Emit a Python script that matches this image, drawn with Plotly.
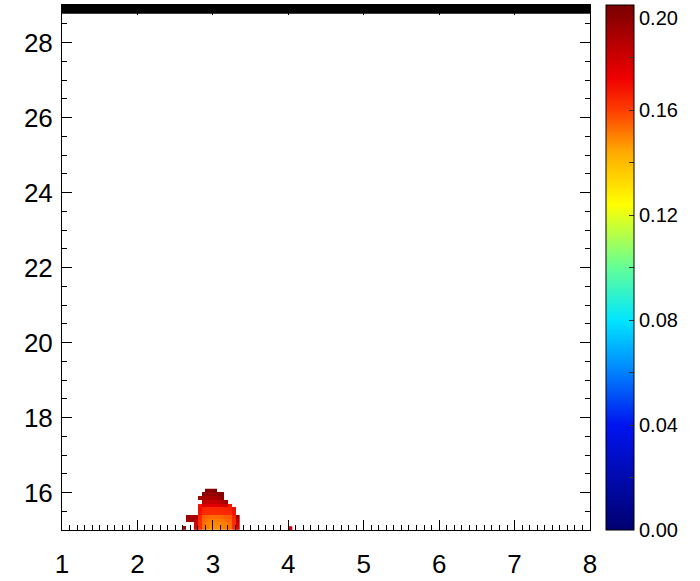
import plotly.graph_objects as go

# ---- data ----
blob_x = [2.625, 2.675, 2.725, 2.775, 2.825, 2.875, 2.925, 2.975, 3.025,
          3.075, 3.125, 3.175, 3.225, 3.275, 3.325]
blob_y = [15.05, 15.15, 15.25, 15.35, 15.45, 15.55, 15.65, 15.75, 15.85, 15.95, 16.05]
N = None
blob_z = [
    [0.19, N, N, 0.175, 0.163, 0.153, 0.151, 0.148, 0.148, 0.148, 0.150, 0.151, 0.153, 0.163, 0.178],
    [N, N, N, 0.178, 0.163, 0.153, 0.151, 0.149, 0.149, 0.149, 0.150, 0.151, 0.153, 0.163, 0.180],
    [N, 0.19, 0.19, 0.185, 0.163, 0.154, 0.152, 0.151, 0.151, 0.151, 0.152, 0.153, 0.154, 0.163, 0.185],
    [N, 0.19, 0.19, 0.188, 0.165, 0.156, 0.154, 0.153, 0.153, 0.153, 0.154, 0.155, 0.156, 0.165, 0.19],
    [N, N, N, N, 0.168, 0.164, 0.163, 0.163, 0.163, 0.163, 0.163, 0.164, 0.164, 0.168, N],
    [N, N, N, N, 0.170, 0.165, 0.164, 0.164, 0.164, 0.164, 0.164, 0.165, 0.166, 0.170, N],
    [N, N, N, N, 0.168, 0.178, 0.176, 0.175, 0.175, 0.176, 0.178, 0.180, 0.168, N, N],
    [N, N, N, N, N, 0.185, 0.183, 0.182, 0.182, 0.184, 0.186, 0.19, N, N, N],
    [N, N, N, N, 0.19, 0.19, 0.188, 0.188, 0.188, 0.19, 0.195, N, N, N, N],
    [N, N, N, N, N, 0.195, 0.194, 0.193, 0.194, 0.196, 0.197, N, N, N, N],
    [N, N, N, N, N, N, 0.197, 0.196, 0.198, N, N, N, N, N, N],
]
dot_x = [4.025]
dot_y = [15.05]
dot_z = [[0.18]]

cbar_vals = [0.00, 0.02, 0.04, 0.06, 0.08, 0.10, 0.12, 0.14, 0.16, 0.18, 0.20]
cbar_text = ["0.00", "", "0.04", "", "0.08", "", "0.12", "", "0.16", "", ""]
cbar_top_label = "0.20"
x_range = [1, 8]
y_range = [15, 29]
zmin, zmax = 0.0, 0.2

cscale = [
    [0.00, "rgb(0,0,110)"],
    [0.20, "rgb(0,20,240)"],
    [0.32, "rgb(0,150,255)"],
    [0.40, "rgb(0,230,255)"],
    [0.50, "rgb(100,255,150)"],
    [0.62, "rgb(255,255,0)"],
    [0.72, "rgb(255,170,0)"],
    [0.80, "rgb(255,60,0)"],
    [0.86, "rgb(240,0,0)"],
    [1.00, "rgb(120,0,0)"],
]

FONT = "Liberation Sans, Arial, sans-serif"

L, R, T, B = 62, 110, 5, 51
W, H = 700, 581
pw = W - L - R
ph = H - T - B
cb_x = (606 - L) / pw

fig = go.Figure()
fig.add_trace(go.Heatmap(
    z=blob_z, x=blob_x, y=blob_y, zmin=zmin, zmax=zmax, colorscale=cscale,
    hoverongaps=False,
    colorbar=dict(
        x=cb_x, xanchor="left", xpad=0, ypad=0, y=0.5, yanchor="middle",
        len=1, lenmode="fraction", thickness=28, thicknessmode="pixels",
        outlinecolor="black", outlinewidth=1,
        tickmode="array", tickvals=cbar_vals, ticktext=cbar_text,
        ticks="inside", ticklen=5, tickcolor="#333",
        ticklabeloverflow="allow",
        tickfont=dict(family=FONT, size=20, color="black"),
    ),
))
fig.add_trace(go.Heatmap(
    z=dot_z, x0=dot_x[0], dx=0.05, y0=dot_y[0], dy=0.1,
    zmin=zmin, zmax=zmax, colorscale=cscale, showscale=False,
))

# top colour-bar label, drawn slightly lower as in the reference
fig.add_annotation(text=cbar_top_label, xref="paper", yref="paper",
                   x=(637 - L) / pw, y=1 - 13 / ph, xanchor="left", yanchor="middle",
                   showarrow=False, font=dict(family=FONT, size=20, color="black"))

# left-side ticks of the colour bar
for v in cbar_vals[1:-1]:
    fig.add_shape(type="line", xref="paper", yref="paper",
                  x0=cb_x, x1=cb_x + 5 / pw, y0=v / zmax, y1=v / zmax,
                  line=dict(color="#333", width=1))

# thick black band along the top
fig.add_shape(type="rect", xref="x", yref="y", x0=x_range[0], x1=x_range[1],
              y0=28.77, y1=y_range[1], fillcolor="black", line=dict(width=0),
              layer="above")

fig.update_xaxes(
    range=x_range, dtick=1, tick0=1, showgrid=False, zeroline=False,
    showline=True, linecolor="black", linewidth=1, mirror="allticks",
    ticks="inside", ticklen=10, tickcolor="black", automargin=False,
    minor=dict(dtick=0.1, ticks="inside", ticklen=5, tickcolor="black"),
    tickfont=dict(family=FONT, size=26, color="black"), ticklabelstandoff=11,
)
fig.update_yaxes(
    range=y_range, dtick=2, tick0=16, showgrid=False, zeroline=False,
    showline=True, linecolor="black", linewidth=1, mirror="allticks",
    ticks="inside", ticklen=10, tickcolor="black", automargin=False,
    minor=dict(dtick=0.5, ticks="inside", ticklen=5, tickcolor="black"),
    tickfont=dict(family=FONT, size=26, color="black"), ticklabelstandoff=3,
)
fig.update_layout(
    width=W, height=H, margin=dict(l=L, r=R, t=T, b=B, autoexpand=False),
    plot_bgcolor="white", paper_bgcolor="white", showlegend=False,
)
fig.write_html("out.html", config={"displayModeBar": False},
               post_script="document.body.style.margin='0';document.body.style.padding='0';")
